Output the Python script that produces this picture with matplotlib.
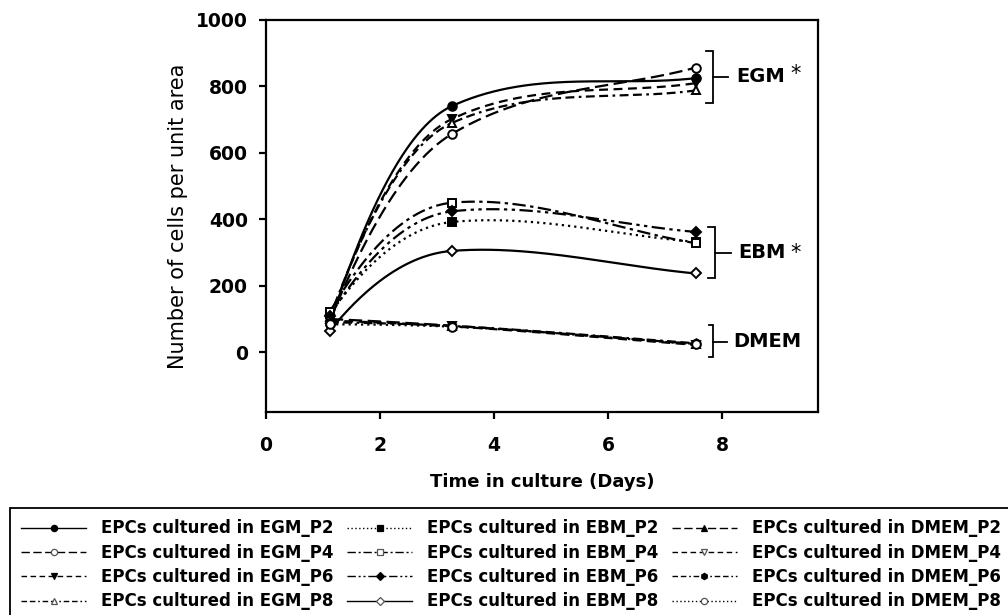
import numpy as np
import matplotlib.pyplot as plt
from matplotlib.lines import Line2D

plt.rcParams['font.family'] = ['DejaVu Sans']

# time points as they sit on the x axis
days = [1.12, 3.26, 7.54]

# cells per unit area for each medium / passage
egm_p2 = [85, 741, 825]
egm_p4 = [95, 657, 857]
egm_p6 = [100, 702, 810]
egm_p8 = [105, 690, 788]
ebm_p2 = [115, 392, 332]
ebm_p4 = [122, 450, 328]
ebm_p6 = [110, 424, 362]
ebm_p8 = [65, 305, 237]
dmem_p2 = [100, 80, 25]
dmem_p4 = [95, 78, 22]
dmem_p6 = [90, 79, 27]
dmem_p8 = [84, 77, 24]

labels = ['EPCs cultured in EGM_P2', 'EPCs cultured in EGM_P4',
          'EPCs cultured in EGM_P6', 'EPCs cultured in EGM_P8',
          'EPCs cultured in EBM_P2', 'EPCs cultured in EBM_P4',
          'EPCs cultured in EBM_P6', 'EPCs cultured in EBM_P8',
          'EPCs cultured in DMEM_P2', 'EPCs cultured in DMEM_P4',
          'EPCs cultured in DMEM_P6', 'EPCs cultured in DMEM_P8']
series = [egm_p2, egm_p4, egm_p6, egm_p8, ebm_p2, ebm_p4, ebm_p6, ebm_p8,
          dmem_p2, dmem_p4, dmem_p6, dmem_p8]

# (linestyle, marker, filled)
long_dash = (0, (6, 2.5))
med_dash = (0, (4, 2.5))
dash_dot = (0, (6, 2, 1.5, 2))
dash_dot_dot = (0, (6, 2, 1.5, 2, 1.5, 2))
dash_dash_dot = (0, (4, 2, 4, 2, 1.2, 2))
dots = (0, (1, 1.8))
styles = [('-', 'o', True), (long_dash, 'o', False),
          (med_dash, 'v', True), (dash_dash_dot, '^', False),
          (dots, 's', True), (dash_dot, 's', False),
          (dash_dot_dot, 'D', True), ('-', 'D', False),
          (long_dash, '^', True), (med_dash, 'v', False),
          (dash_dash_dot, 'h', True), (dots, 'o', False)]


def smooth_curve(x, y, xs):
    """Piecewise cubic Hermite line through the points, with soft slopes."""
    x = np.asarray(x, float)
    y = np.asarray(y, float)
    h = np.diff(x)
    delta = np.diff(y) / h
    n = len(x)
    d = np.zeros(n)
    for k in range(1, n - 1):
        p = 0.0
        if delta[k - 1] * delta[k] > 0:
            w1 = 2 * h[k] + h[k - 1]
            w2 = h[k] + 2 * h[k - 1]
            p = (w1 + w2) / (w1 / delta[k - 1] + w2 / delta[k])
        sec = (y[k + 1] - y[k - 1]) / (x[k + 1] - x[k - 1])
        d[k] = 0.5 * (p + sec)
    s = 2 * delta[0] - d[1]
    if np.sign(s) != np.sign(delta[0]):
        s = 0.0
    elif abs(s) > 3 * abs(delta[0]):
        s = 3 * delta[0]
    d[0] = s
    d[-1] = delta[-1]

    idx = np.clip(np.searchsorted(x, xs) - 1, 0, n - 2)
    t = (xs - x[idx]) / h[idx]
    h00 = 2 * t**3 - 3 * t**2 + 1
    h10 = t**3 - 2 * t**2 + t
    h01 = -2 * t**3 + 3 * t**2
    h11 = t**3 - t**2
    return (h00 * y[idx] + h10 * h[idx] * d[idx] + h01 * y[idx + 1]
            + h11 * h[idx] * d[idx + 1])


fig = plt.figure(figsize=(10.08, 6.15), dpi=100)
ax = fig.add_axes([0.2639, 0.330, 0.5476, 0.6375])

xs = np.linspace(days[0], days[-1], 300)
handles = []
for vals, (ls, mk, filled), lab in zip(series, styles, labels):
    ax.plot(xs, smooth_curve(days, vals, xs), color='black', lw=1.6,
            linestyle=ls, zorder=2)
    fc = 'black' if filled else 'white'
    ms = 5.2 if mk == 'D' else 6.2
    ax.plot(days, vals, linestyle='none', marker=mk, ms=ms, mfc=fc,
            mec='black', mew=1.4, zorder=3)
    handles.append(Line2D([], [], color='black', lw=1.0, linestyle=ls,
                          marker=mk, ms=4.5, mfc=fc,
                          mec='black' if filled else '#555555', mew=0.9,
                          label=lab))

ax.set_xlim(0, 9.68)
ax.set_ylim(-180, 1000)
ax.set_xticks([0, 2, 4, 6, 8])
ax.set_yticks([0, 200, 400, 600, 800, 1000])
for s in ax.spines.values():
    s.set_linewidth(1.6)
ax.tick_params(axis='both', direction='out', length=5, width=1.6,
               labelsize=13.5)
ax.tick_params(axis='x', pad=12)
ax.tick_params(axis='y', pad=8)
for lab in ax.get_xticklabels() + ax.get_yticklabels():
    lab.set_fontweight('bold')

ax.set_xlabel('Time in culture (Days)', fontsize=13, fontweight='bold',
              labelpad=13)
ax.set_ylabel('Number of cells per unit area', fontsize=15, labelpad=6)

# group brackets: (top, bottom, mid, x_hook, x_vert, x_tick, x_text, text)
brackets = [(907, 751, 829, 7.72, 7.84, 8.10, 8.25, 'EGM'),
            (376, 222, 299, 7.75, 7.88, 8.16, 8.28, 'EBM'),
            (81, -14, 31, 7.77, 7.84, 8.09, 8.19, 'DMEM')]
for top, bot, mid, xh, xv, xt, xtx, txt in brackets:
    ax.plot([xh, xv, xv, xh], [top, top, bot, bot], color='black', lw=1.3,
            solid_joinstyle='miter')
    ax.plot([xv, xt], [mid, mid], color='black', lw=1.3)
    ax.text(xtx, mid, txt, fontsize=14, fontweight='bold', ha='left',
            va='center')
ax.text(9.28, 820, '*', fontsize=15, ha='center', va='baseline')
ax.text(9.29, 280, '*', fontsize=15, ha='center', va='baseline')

leg = fig.legend(handles=handles, ncol=3, loc='upper left',
                 bbox_to_anchor=(10 / 1008, 1 - 508 / 615),
                 bbox_transform=fig.transFigure, borderaxespad=0,
                 prop={'size': 12.0, 'weight': 'bold'}, handlelength=3.9,
                 handletextpad=0.9, columnspacing=0.8, labelspacing=0.38,
                 borderpad=0.68, fancybox=False, framealpha=1)
leg.get_frame().set_edgecolor('black')
leg.get_frame().set_linewidth(1.3)

fig.savefig('out.png', dpi=100)
